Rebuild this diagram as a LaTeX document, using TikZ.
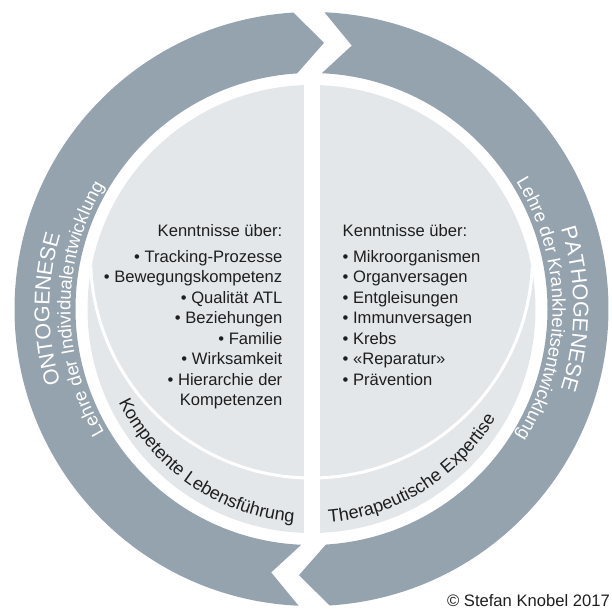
\documentclass[tikz,border=0pt]{standalone}
\usepackage{fontspec}
\setmainfont{Liberation Sans}
\usetikzlibrary{decorations.text}

\def\outerR{297}
\def\innerR{236}
\def\midR{266.5}
\def\discR{224}
\definecolor{ringcolor}{RGB}{149, 163, 174}
\definecolor{disccolor}{RGB}{228, 231, 234}
\definecolor{inkcolor}{RGB}{30, 30, 30}

\begin{document}
\begin{tikzpicture}[x=1pt, y=1pt,
    ringpart/.style={fill=ringcolor},
    halfdisc/.style={fill=disccolor},
    listhead/.style={font=\fontsize{16.6}{19}\selectfont, text=inkcolor, inner sep=0pt},
    listleft/.style={listhead, anchor=base east},
    listright/.style={listhead, anchor=base west},
    ringtitle/.style={decorate, decoration={text along path, text align=center,
        text={|\color{white}\fontsize{21.5}{21.5}\selectfont|#1}}},
    ringsub/.style={decorate, decoration={text along path, text align=center,
        text={|\color{white}\fontsize{18.5}{18.5}\selectfont|#1}}},
    bandlabel/.style={decorate, decoration={text along path, text align=center,
        text={|\color{inkcolor}\fontsize{18}{18}\selectfont|#1}}}
    ]
    \useasboundingbox (-311.5,-299) rectangle (300.5,309);

    % Ring arrows
    \fill[ringpart] (267.5:\outerR) arc[start angle=267.5, end angle=93.5, radius=\outerR pt]
        -- (87.3:\midR) -- (93.5:\innerR)
        arc[start angle=93.5, end angle=267.5, radius=\innerR pt] -- (261.3:\midR) -- cycle;
    \fill[ringpart] (87.5:\outerR) arc[start angle=87.5, end angle=-86.5, radius=\outerR pt]
        -- (-92.7:\midR) -- (-86.5:\innerR)
        arc[start angle=-86.5, end angle=87.5, radius=\innerR pt] -- (81.3:\midR) -- cycle;

    % Inner disc
    \fill[halfdisc] (0,0) circle[radius=\discR pt];
    \begin{scope}
        \clip (0,0) circle[radius=\discR pt];
        \draw[white, line width=3pt] (0,52) circle[radius=221pt];
    \end{scope}
    \fill[white] (-8,-228) rectangle (8,228);

    % Texts on the ring
    \path[ringtitle=ONTOGENESE] (235:262) arc[start angle=235, end angle=125, radius=262pt];
    \path[ringsub=Lehre der Individualentwicklung] (245:241) arc[start angle=245, end angle=115, radius=241pt];
    \path[ringtitle=PATHOGENESE] (55:262) arc[start angle=55, end angle=-55, radius=262pt];
    \path[ringsub=Lehre der Krankheitsentwicklung] (65:241) arc[start angle=65, end angle=-65, radius=241pt];

    % Texts on the band
    \path[bandlabel=Kompetente Lebensführung] (195.5:214) arc[start angle=195.5, end angle=275.5, radius=214pt];
    \path[bandlabel=Therapeutische Expertise] (262:214) arc[start angle=262, end angle=342, radius=214pt];

    % Left list
    \node[listleft] (onthead) at (-29,73) {Kenntnisse über:};
    \foreach [count=\i] \entry in {Tracking-Prozesse, Bewegungskompetenz, Qualität ATL,
        Beziehungen, Familie, Wirksamkeit, Hierarchie der}
        \node[listleft] (ont\i) at (-29,{47-20.5*(\i-1)}) {• \entry};
    \node[listleft] (ontlast) at (-29,-96.5) {Kompetenzen};

    % Right list
    \node[listright] (pathead) at (31,73) {Kenntnisse über:};
    \foreach [count=\i] \entry in {Mikroorganismen, Organversagen, Entgleisungen,
        Immunversagen, Krebs, «Reparatur», Prävention}
        \node[listright] (pat\i) at (31,{47-20.5*(\i-1)}) {• \entry};

    \node[listhead, anchor=base east] (credit) at (298.5,-297) {© Stefan Knobel 2017};
\end{tikzpicture}
\end{document}
